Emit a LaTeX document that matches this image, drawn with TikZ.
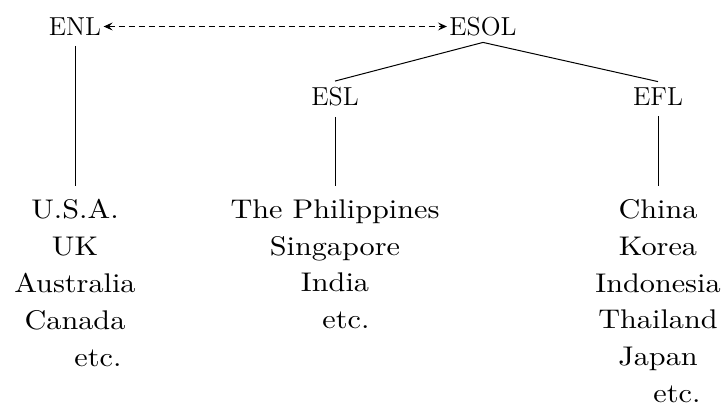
\documentclass[tikz,border=0pt]{standalone}
\usepackage{fontspec}
\newfontfamily\lstfont{lmroman10-regular.otf}[FakeStretch=1.12]
\usetikzlibrary{arrows.meta}
\begin{document}
\begin{tikzpicture}[x=.5pt,y=-.5pt,line width=.5pt,
	every node/.style={font=\fontsize{13}{16}\selectfont,inner xsep=1pt,inner ysep=3pt},
	lst/.style={font=\lstfont\fontsize{13.5}{18.4}\selectfont,align=center,anchor=north,inner xsep=0pt,inner ysep=6.5pt},
	stem/.style={shorten <=2pt},
	tip/.tip={Stealth[length=4.5pt,width=4pt,inset=1.8pt]}]
		\useasboundingbox(0,0)rectangle(722,405);
		\coordinate(L)at(75,26.5);
		\coordinate(O)at(483,26.5);
		\coordinate(S)at(335,97);
		\coordinate(F)at(658,97);
		\coordinate(P)at(75,186);
		\coordinate(Q)at(335,186);
		\coordinate(R)at(658,186);
		\node(enl)at(L){ENL};
		\node(esol)at(O){ESOL};
		\node(esl)at(S){ESL};
		\node(efl)at(F){EFL};
		\node[lst](nat)at(P){U.S.A.\\UK\\Australia\\Canada\\\hspace*{23pt}etc.};
		\node[lst](sec)at(Q){The Philippines\\Singapore\\India\\\hspace*{11pt}etc.};
		\node[lst](for)at(R){China\\Korea\\Indonesia\\Thailand\\Japan\\\hspace*{19pt}etc.};
		\draw[dash pattern=on 3pt off 2pt,tip-tip](enl)--(esol);
		\draw(esl.north)--(esol.south)--(efl.north);
		\foreach\a/\b in{enl/nat,esl/sec,efl/for}{\draw[stem](\a.south)--(\b.north);}
		\end{tikzpicture}
\end{document}
